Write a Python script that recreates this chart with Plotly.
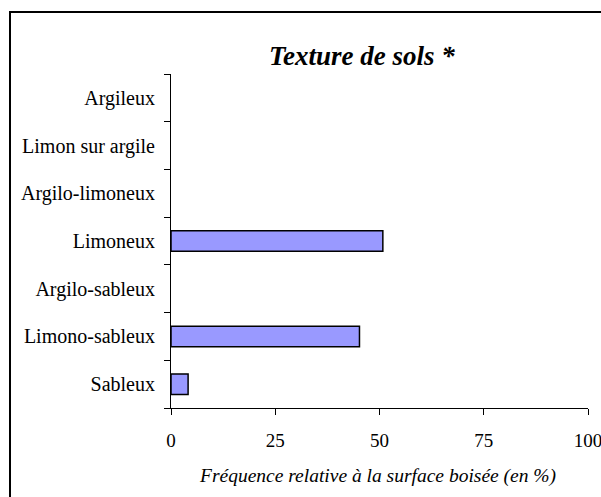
import plotly.graph_objects as go

categories = ["Sableux", "Limono-sableux", "Argilo-sableux", "Limoneux",
              "Argilo-limoneux", "Limon sur argile", "Argileux"]
values = [4.1, 45.2, 0, 50.8, 0, 0, 0]
x_ticks = [0, 25, 50, 75, 100]

W, H = 601, 497
L, R, T, B = 171, 13, 74, 89
pw, ph = W - L - R, H - T - B

def px(x):
    return (x - L) / pw

def py(y):
    return 1 - (y - T) / ph

fig = go.Figure(go.Bar(
    y=categories, x=values, orientation="h",
    marker=dict(color="#9999FF",
                line=dict(color="black", width=[1.5 if v > 0 else 0 for v in values])),
    width=0.43,
))

font = "Liberation Serif"
fig.update_layout(
    width=W, height=H,
    margin=dict(l=L, r=R, t=T, b=B, autoexpand=False),
    paper_bgcolor="white", plot_bgcolor="white",
    showlegend=False,
    font=dict(family=font, color="black", size=19),
    xaxis=dict(range=[0, 100], tickvals=x_ticks, ticks="outside", ticklen=6,
               tickcolor="black", showline=True, linecolor="black", linewidth=1,
               showgrid=False, zeroline=False, tickfont=dict(size=19, family=font),
               ticklabelstandoff=9, ticklabeloverflow="allow"),
    yaxis=dict(type="category", categoryorder="array", categoryarray=categories,
               range=[-0.5, 6.5], tickson="boundaries", ticks="outside", ticklen=6,
               tickcolor="black", showline=True, linecolor="black", linewidth=1,
               showgrid=False, zeroline=False, tickfont=dict(size=20, family=font),
               ticklabelstandoff=11),
    annotations=[
        dict(text="<b><i>Texture de sols *</i></b>", xref="paper", yref="paper",
             x=px(362), y=py(56), xanchor="center", yanchor="middle",
             showarrow=False, font=dict(size=27, family=font)),
        dict(text="<i>Fréquence relative à la surface boisée (en %)</i>",
             xref="paper", yref="paper", x=px(377), y=py(476),
             xanchor="center", yanchor="middle", showarrow=False,
             font=dict(size=19.5, family=font)),
    ],
    shapes=[dict(type="rect", xref="paper", yref="paper",
                 x0=px(10), y0=py(560), x1=px(640), y1=py(12),
                 line=dict(color="black", width=2), layer="above")],
)

fig.write_html("out.html", config={"displayModeBar": False})
with open("out.html", encoding="utf-8") as f:
    html = f.read()
html = html.replace("<head>", "<head><style>html,body{margin:0;padding:0;overflow:hidden;}</style>", 1)
with open("out.html", "w", encoding="utf-8") as f:
    f.write(html)
